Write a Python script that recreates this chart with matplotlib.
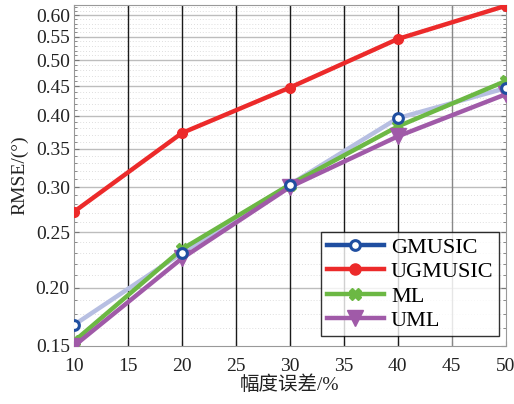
import numpy as np
import matplotlib
matplotlib.use('Agg')
import matplotlib.pyplot as plt
from matplotlib.lines import Line2D
from matplotlib.ticker import FixedLocator, NullFormatter

plt.rcParams['font.family'] = ['Liberation Serif', 'Noto Sans CJK SC']

# amplitude error (%)
x = [10, 20, 30, 40, 50]

# RMSE values
gmusic = [0.172, 0.230, 0.303, 0.396, 0.447]
ugmusic = [0.2715, 0.373, 0.448, 0.545, 0.623]
ml = [0.161, 0.2335, 0.303, 0.383, 0.460]
uml = [0.158, 0.225, 0.300, 0.368, 0.436]

labels = ['GMUSIC', 'UGMUSIC', 'ML', 'UML']
colors = ['#1f4ea0', '#ec2a2a', '#6cb844', '#a05aa8']
y_ticks = [0.158, 0.20, 0.25, 0.30, 0.35, 0.40, 0.45, 0.50, 0.55, 0.60]
y_ticklabels = ['0.15', '0.20', '0.25', '0.30', '0.35', '0.40', '0.45', '0.50', '0.55', '0.60']
x_ticks = [10, 15, 20, 25, 30, 35, 40, 45, 50]

fig = plt.figure(figsize=(5.14, 4.04), dpi=100)
ax = fig.add_axes([0.144, 0.1436, 0.840, 0.8440])

ax.set_yscale('log')
ax.set_xlim(10, 50)
ax.set_ylim(0.158, 0.625)

# gridlines
minor = np.arange(0.16, 0.63, 0.01)
minor = [m for m in minor if min(abs(m - t) for t in y_ticks) > 0.004]
for v in minor:
    ax.axhline(v, color='#d4d4d4', lw=0.6, ls=(0, (1, 2.5)), zorder=1)
for v in y_ticks[1:]:
    ax.axhline(v, color='#bdbdbd', lw=1.0, zorder=1.5)
for v in x_ticks[1:-1]:
    ax.axvline(v, color='#888888' if v == 45 else '#1a1a1a', lw=1.0, zorder=2)

lw = 3.2
ax.plot(x, gmusic, color='#b7bfe2', lw=lw, zorder=3)
ax.plot(x, gmusic, ls='none', marker='o', ms=7, mfc='white', mec=colors[0], mew=2.2, zorder=6)
ax.plot(x, ugmusic, color=colors[1], lw=lw, marker='o', ms=7, zorder=4)
ax.plot(x, ml, color=colors[2], lw=lw, marker='X', ms=8, zorder=4)
ax.plot(x, uml, color=colors[3], lw=lw, marker='v', ms=11, zorder=5)

ax.set_xticks(x_ticks)
ax.set_xticklabels([str(t) for t in x_ticks])
ax.yaxis.set_major_locator(FixedLocator(y_ticks))
ax.set_yticklabels(y_ticklabels)
ax.yaxis.set_minor_locator(FixedLocator(minor))
ax.yaxis.set_minor_formatter(NullFormatter())
ax.tick_params(axis='both', which='both', direction='in', colors='#777777', labelcolor='#222222',
               labelsize=14, pad=3, right=True, top=True)
ax.tick_params(axis='y', which='minor', length=2)
ax.tick_params(axis='x', pad=9)
for s in ax.spines.values():
    s.set_color('#999999')
    s.set_linewidth(0.8)

ax.set_xlabel('幅度误差/%', fontsize=14, color='#222222', labelpad=0)
ax.set_ylabel('RMSE/(°)', fontsize=14, color='#222222', labelpad=5)

handles = [
    Line2D([], [], color=colors[0], lw=lw, marker='o', ms=7, mfc='white', mec=colors[0], mew=2.2),
    Line2D([], [], color=colors[1], lw=lw, marker='o', ms=8),
    Line2D([], [], color=colors[2], lw=lw, marker='X', ms=8),
    Line2D([], [], color=colors[3], lw=lw, marker='v', ms=11),
]
leg = ax.legend(handles, labels, loc='lower right', bbox_to_anchor=(0.995, 0.015),
                fontsize=16, frameon=True, fancybox=False, handlelength=2.6,
                handletextpad=0.3, labelspacing=0.17, borderpad=0.25, borderaxespad=0.2)
leg.get_frame().set_edgecolor('black')
leg.get_frame().set_linewidth(1.0)
leg.set_zorder(10)

fig.savefig('out.png', dpi=100)
